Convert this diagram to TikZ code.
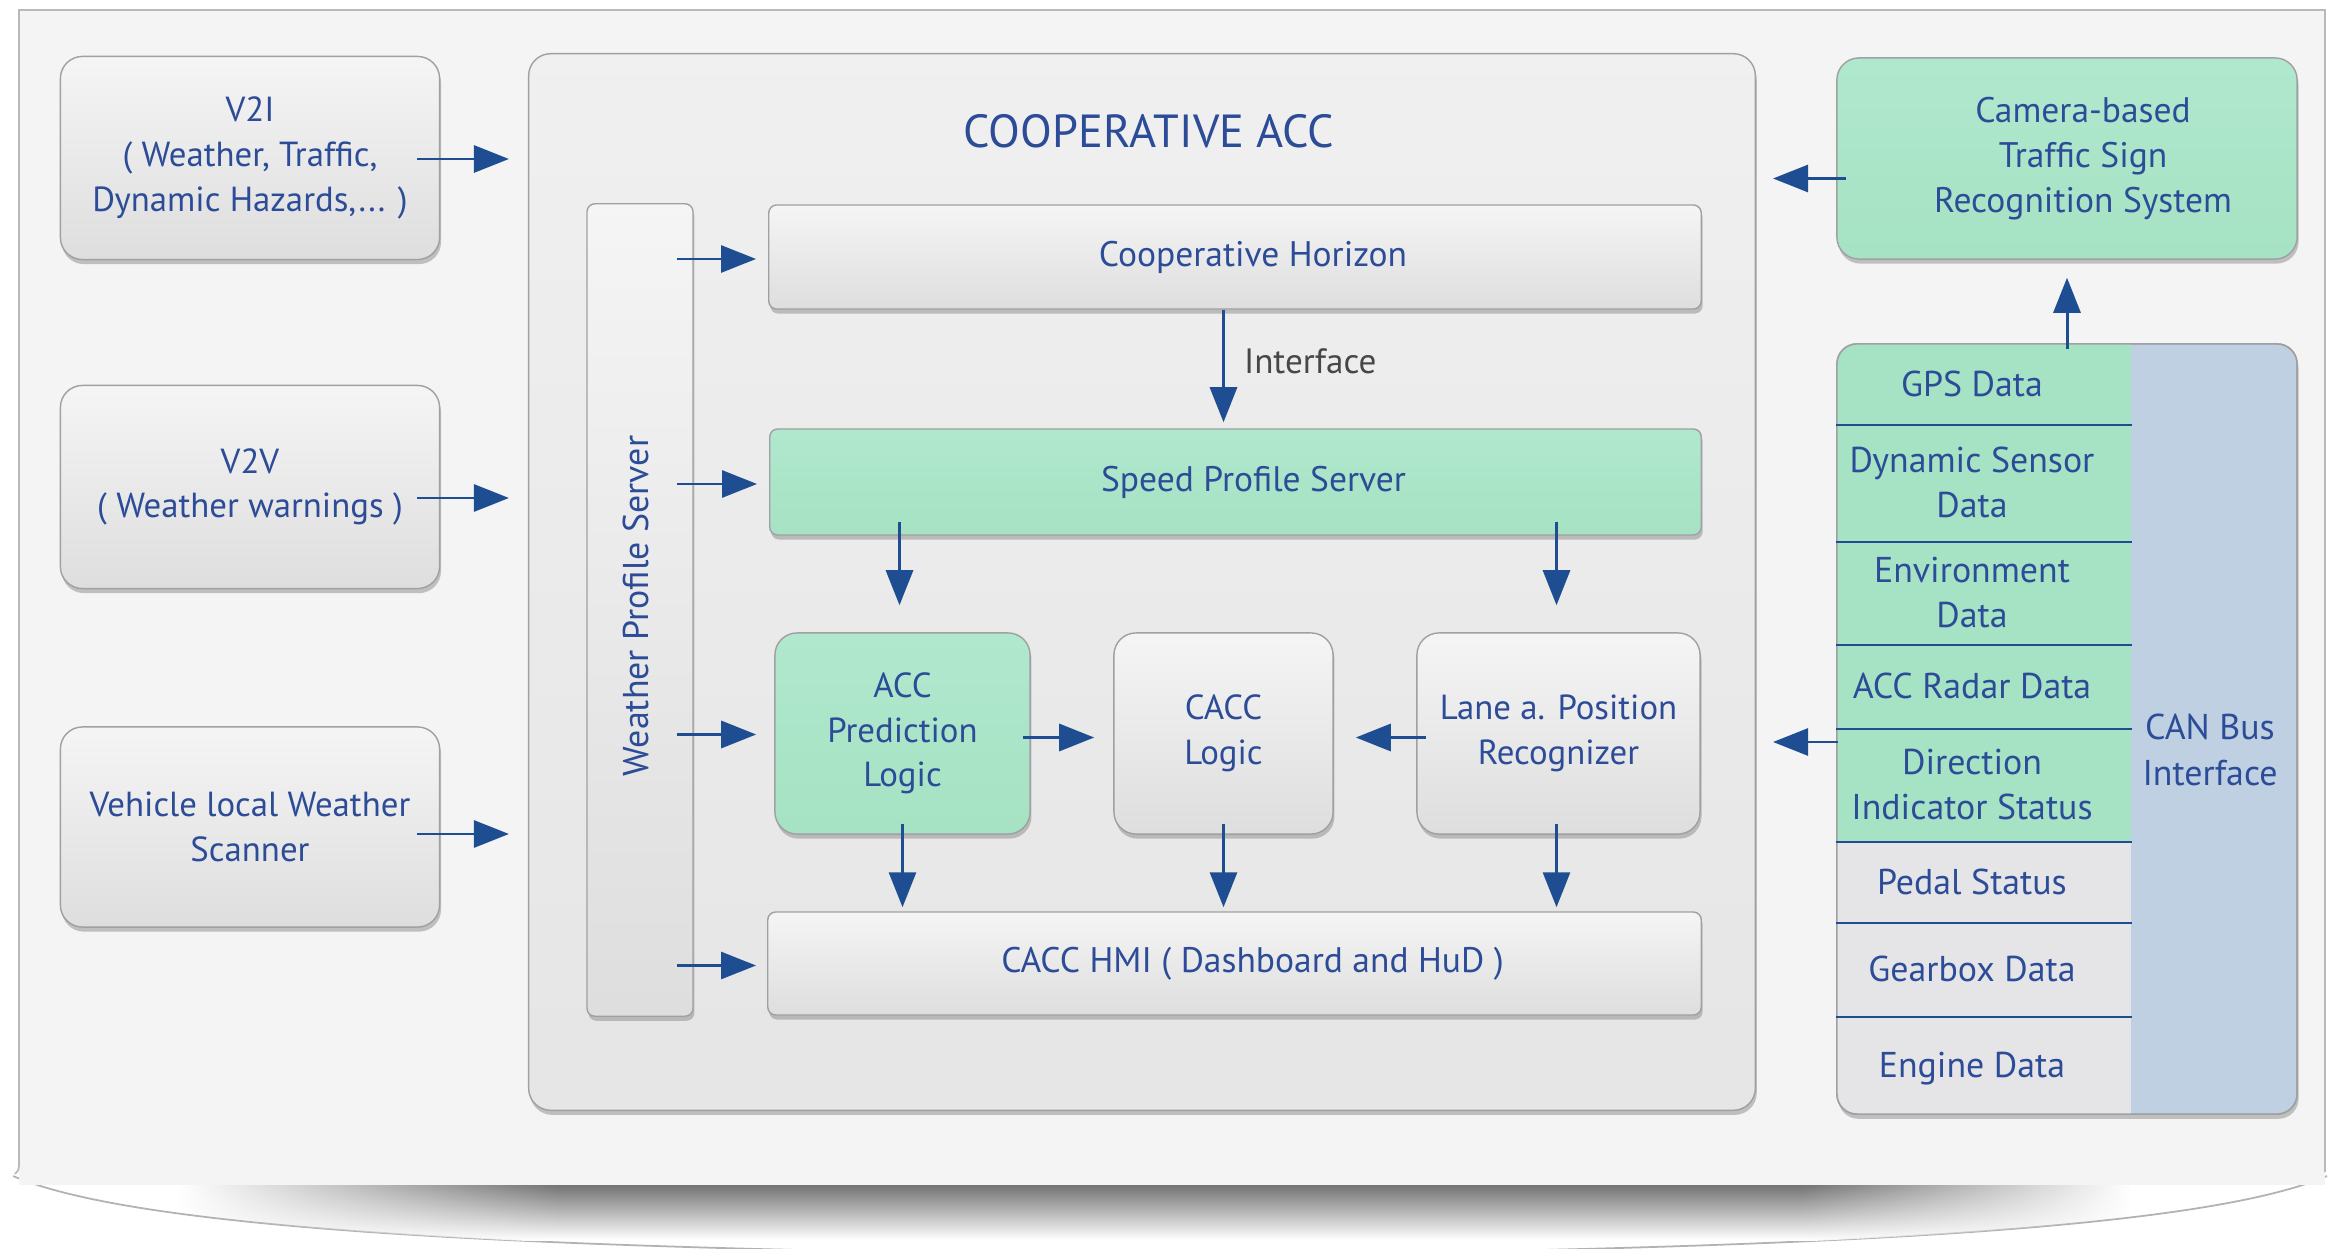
\documentclass[tikz,border=0pt]{standalone}
\usepackage{fontspec}
\setmainfont{PT Sans}
\usetikzlibrary{arrows.meta,shadows,fadings,calc}

\definecolor{txtblue}{RGB}{44,76,152}
\definecolor{arrblue}{RGB}{30,78,145}
\definecolor{mint}{RGB}{166,226,196}
\definecolor{mintlt}{RGB}{176,232,205}
\definecolor{canblue}{RGB}{190,208,226}
\definecolor{rowgray}{RGB}{229,229,231}
\definecolor{panelbg}{RGB}{244,244,245}
\definecolor{edgegray}{RGB}{160,160,162}

\tikzfading[name=fadeinright, left color=transparent!100, right color=transparent!0]
\tikzfading[name=fadeoutright, left color=transparent!0, right color=transparent!100]

\tikzset{
  lbl/.style={text=txtblue, font=\fontsize{9.9}{12.7}\selectfont, align=center},
  boxshadow/.style={drop shadow={shadow xshift=0.4pt, shadow yshift=-1.3pt, opacity=0.45}},
  graybox/.style={lbl, draw=edgegray, line width=0.4pt, top color=gray!8, bottom color=gray!26,
    rounded corners=0.22cm, boxshadow},
  barbox/.style={graybox, rounded corners=0.08cm},
  greenbox/.style={graybox, top color=mintlt, bottom color=mint},
  greenbar/.style={greenbox, rounded corners=0.08cm},
  inner/.style={label={[lbl, font=\fontsize{10.1}{12.7}\selectfont, xshift=0.18cm]center:#1}},
  canrow/.style={lbl, font=\fontsize{10.2}{12.9}\selectfont, draw=none, inner sep=0pt,
    minimum width=2.94cm, text depth=0pt},
  sep/.style={draw=arrblue, line width=0.5pt},
  flow/.style={draw=arrblue, line width=0.85pt, -{Triangle[length=0.35cm,width=0.27cm]}},
}

\begin{document}
\begin{tikzpicture}[x=0.01cm, y=-0.01cm]
\useasboundingbox (0,0) rectangle (2330,1249);
\clip (0,0) rectangle (2330,1249);
\fill[white] (0,0) rectangle (2330,1249);

% curved base under the panel
\path[draw=gray!60, line width=0.5pt, fill=white]
  (13,1176) .. controls (150,1235) and (600,1250) .. (1170,1256)
            .. controls (1740,1250) and (2190,1235) .. (2327,1176);

% soft shadow cast by the panel
\begin{scope}
  \clip (13,1176) .. controls (150,1235) and (600,1250) .. (1170,1256)
            .. controls (1740,1250) and (2190,1235) .. (2327,1176) -- (2327,1185) -- (13,1185) -- cycle;
  \shade[top color=black!55, bottom color=white, path fading=fadeinright] (180,1185) rectangle (560,1240);
  \shade[top color=black!55, bottom color=white] (559,1185) rectangle (1801,1240);
  \shade[top color=black!55, bottom color=white, path fading=fadeoutright] (1800,1185) rectangle (2130,1240);
\end{scope}

% panel
\fill[panelbg] (19,10) rectangle (2325,1185);
\draw[gray!55, line width=0.5pt] (15,1174) .. controls (19,1170) .. (19,1160) -- (19,10) -- (2325,10) -- (2325,1172);

% left sources
\node[graybox, minimum width=3.79cm, minimum height=2.03cm] (v2i) at (250,158)
  {V2I\\( Weather, Traffic,\\Dynamic Hazards,... )};
\node[graybox, minimum width=3.79cm, minimum height=2.03cm] (v2v) at (250,487)
  {V2V\\( Weather warnings )};
\node[graybox, minimum width=3.79cm, minimum height=2.00cm] (scan) at (250,827)
  {Vehicle local Weather\\Scanner};

% cooperative ACC block
\node[draw=edgegray, line width=0.4pt, top color=gray!12, bottom color=gray!20,
  rounded corners=0.22cm, boxshadow, minimum width=12.26cm, minimum height=10.56cm] (main) at (1142,582) {};
\node[text=txtblue, font=\fontsize{13.2}{15}\selectfont] (title) at (1149,131) {COOPERATIVE ACC};

\node[barbox, minimum width=1.06cm, minimum height=8.12cm] (wps) at (640,610) {};
\node[lbl, font=\fontsize{10.2}{12.7}\selectfont, rotate=90] (wpstxt) at (636,606) {Weather Profile Server};

\node[barbox, minimum width=9.32cm, minimum height=1.04cm, inner={Cooperative Horizon}] (coop) at (1235,257) {};
\node[greenbar, minimum width=9.31cm, minimum height=1.06cm, inner={Speed Profile Server}] (speed) at (1235.5,482) {};
\node[greenbox, minimum width=2.55cm, minimum height=2.01cm] (acc) at (902.5,733.5) {ACC\\Prediction\\Logic};
\node[graybox, minimum width=2.19cm, minimum height=2.01cm] (cacc) at (1223.5,733.5) {CACC\\Logic};
\node[graybox, minimum width=2.83cm, minimum height=2.01cm] (lane) at (1558.5,733.5) {Lane a. Position\\Recognizer};
\node[barbox, minimum width=9.33cm, minimum height=1.03cm, inner={CACC HMI ( Dashboard and HuD )}] (hmi) at (1234.5,963.5) {};

% right side
\node[greenbox, minimum width=4.60cm, minimum height=2.01cm,
  label={[lbl, font=\fontsize{10.1}{12.8}\selectfont, xshift=0.16cm]center:Camera-based\\Traffic Sign\\Recognition System}] (cam) at (2067,158.5) {};

\node[draw=edgegray, line width=0.4pt, fill=canblue, rounded corners=0.2cm, boxshadow,
  minimum width=4.60cm, minimum height=7.70cm] (can) at (2067,729) {};
\begin{scope}
  \clip[rounded corners=0.2cm] (1837,344) rectangle (2297,1114);
  \fill[mint] (1837,344) rectangle (2131,841);
  \fill[rowgray] (1837,841) rectangle (2131,1114);
\end{scope}
\node[canrow, minimum height=0.80cm] (gps) at (1984,384) {\hspace*{-0.24cm}GPS Data};
\node[canrow, minimum height=1.17cm] (dyn) at (1984,482.5) {\hspace*{-0.24cm}Dynamic Sensor\\\hspace*{-0.24cm}Data};
\node[canrow, minimum height=1.03cm] (env) at (1984,592.5) {\hspace*{-0.24cm}Environment\\\hspace*{-0.24cm}Data};
\node[canrow, minimum height=0.84cm] (radar) at (1984,686) {\hspace*{-0.24cm}ACC Radar Data};
\node[canrow, minimum height=1.13cm] (dir) at (1984,784.5) {\hspace*{-0.24cm}Direction\\\hspace*{-0.24cm}Indicator Status};
\node[canrow, minimum height=0.81cm] (pedal) at (1984,881.5) {\hspace*{-0.24cm}Pedal Status};
\node[canrow, minimum height=0.94cm] (gear) at (1984,969) {\hspace*{-0.24cm}Gearbox Data};
\node[canrow, minimum height=0.98cm] (engine) at (1984,1065) {\hspace*{-0.24cm}Engine Data};
\draw[draw=edgegray, line width=0.4pt, rounded corners=0.2cm] (1837,344) rectangle (2297,1114);
\foreach \r in {gps,dyn,env,radar,dir,pedal,gear}
  \draw[sep] (\r.south west) -- (\r.south east);
\node[lbl, font=\fontsize{10.2}{12.9}\selectfont] (cantxt) at (2210,750) {CAN Bus\\Interface};

% connectors
\draw[flow] ($(v2i.east)+(-23,1)$) -- ($(main.west |- v2i.east)+(-19,1)$);
\draw[flow] ($(v2v.east)+(-23,11)$) -- ($(main.west |- v2v.east)+(-19,11)$);
\draw[flow] ($(scan.east)+(-23,7)$) -- ($(main.west |- scan.east)+(-19,7)$);

\draw[flow] ($(wps.east |- coop.west)+(-17,2)$) -- ($(coop.west)+(-12,2)$);
\draw[flow] ($(wps.east |- speed.west)+(-17,2)$) -- ($(speed.west)+(-12,2)$);
\draw[flow] ($(wps.east |- acc.west)+(-17,1)$) -- ($(acc.west)+(-18,1)$);
\draw[flow] ($(wps.east |- hmi.west)+(-17,2)$) -- ($(hmi.west)+(-11,2)$);

\draw[flow] (coop.south -| cacc.north) -- node[right=0.19cm, inner sep=0pt, text=black!72, yshift=0.05cm,
  font=\fontsize{10}{12.7}\selectfont] (iface) {Interface} ($(speed.north -| cacc.north)+(0,-6)$);

\draw[flow] ($(speed.south -| acc.north)+(-3,-14)$) -- ($(acc.north)+(-3,-27)$);
\draw[flow] ($(speed.south -| lane.north)+(-2,-14)$) -- ($(lane.north)+(-2,-27)$);

\draw[flow] ($(acc.east)+(-8,4)$) -- ($(cacc.west)+(-19,4)$);
\draw[flow] ($(lane.west)+(10,4)$) -- ($(cacc.east)+(22,4)$);

\draw[flow] ($(acc.south)+(0,-11)$) -- ($(hmi.north -| acc.south)+(0,-4)$);
\draw[flow] ($(cacc.south)+(0,-11)$) -- ($(hmi.north -| cacc.south)+(0,-4)$);
\draw[flow] ($(lane.south)+(-2,-11)$) -- ($(hmi.north -| lane.south)+(-2,-4)$);

\draw[flow] ($(cam.west)+(10,20)$) -- ($(main.east |- cam.west)+(17,20)$);
\draw[flow] ($(can.north -| cam.south)+(0,6)$) -- ($(cam.south)+(0,18)$);
\draw[flow] ($(can.west)+(2,13)$) -- ($(main.east |- can.west)+(17,13)$);
\end{tikzpicture}
\end{document}
